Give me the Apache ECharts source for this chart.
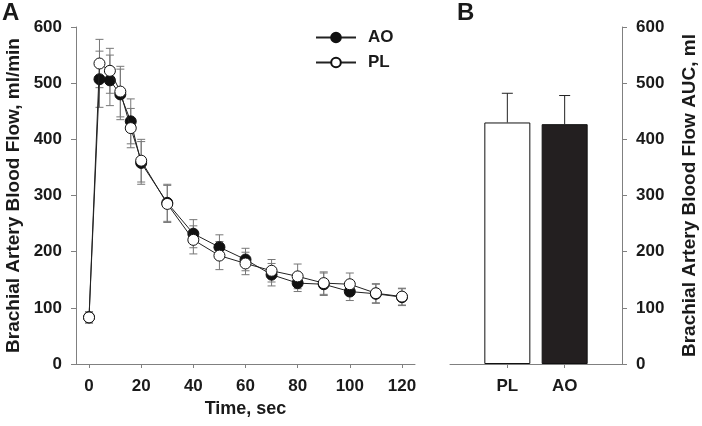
<!DOCTYPE html>
<html><head><meta charset="utf-8">
<script src="https://cdn.jsdelivr.net/npm/echarts@6/dist/echarts.min.js"></script>
<style>html,body{margin:0;padding:0;background:#fff}#c{width:702px;height:426px}</style>
</head><body><div id="c"></div>
<script>
// ---- data ----
const times  = [0, 4, 8, 12, 16, 20, 30, 40, 50, 60, 70, 80, 90, 100, 110, 120];
const aoMean = [83, 507, 505, 480, 432, 358, 287, 232, 208, 186, 159, 144, 142, 129, 125, 119];
const aoSem  = [10, 50, 45, 45, 40, 38, 33, 25, 22, 20, 20, 15, 20, 16, 17, 15];
const plMean = [83, 535, 522, 485, 420, 362, 285, 221, 193, 179, 166, 156, 144, 142, 126, 120];
const plSem  = [10, 43, 40, 45, 35, 38, 33, 25, 25, 20, 20, 22, 20, 20, 17, 15];
const xTickValues = [0, 20, 40, 60, 80, 100, 120];
const barCategories = ['PL', 'AO'];
const barMeans = [430, 427];
const barSem   = [52, 51];

const FONT = '"Liberation Sans", Arial, sans-serif';
const TXT = '#1a1a1a';
const AX = '#808080';

const chart = echarts.init(document.getElementById('c'), null, {renderer: 'canvas'});

function errItems(t, m, s) { return t.map((x, i) => [x, m[i] - s[i], m[i] + s[i]]); }

function errRender(capW, color) {
  return function (params, api) {
    const lo = api.coord([api.value(0), api.value(1)]);
    const hi = api.coord([api.value(0), api.value(2)]);
    const st = {stroke: color, lineWidth: 1};
    return {type: 'group', children: [
      {type: 'line', shape: {x1: hi[0], y1: hi[1], x2: lo[0], y2: lo[1]}, style: st},
      {type: 'line', shape: {x1: hi[0] - capW, y1: hi[1], x2: hi[0] + capW, y2: hi[1]}, style: st},
      {type: 'line', shape: {x1: lo[0] - capW, y1: lo[1], x2: lo[0] + capW, y2: lo[1]}, style: st}
    ]};
  };
}

const tickLabel = {fontFamily: FONT, fontWeight: 'bold', fontSize: 17, color: TXT};
const nameStyle = {fontFamily: FONT, fontWeight: 'bold', fontSize: 19, color: TXT};

const option = {
  animation: false,
  backgroundColor: '#fff',
  grid: [
    {left: 76, top: 27, width: 339, height: 337},
    {left: 450, top: 27, width: 172, height: 337}
  ],
  xAxis: [
    {gridIndex: 0, type: 'value', min: -5, max: 125,
     name: 'Time, sec', nameLocation: 'middle', nameGap: 35, nameTextStyle: Object.assign({}, nameStyle, {fontSize: 18}),
     axisLine: {lineStyle: {color: AX}}, splitLine: {show: false},
     axisTick: {show: true, length: 4, lineStyle: {color: AX}, customValues: xTickValues},
     axisLabel: Object.assign({margin: 14, customValues: xTickValues}, tickLabel)},
    {gridIndex: 1, type: 'value', min: 0, max: 3,
     axisLine: {lineStyle: {color: AX}}, splitLine: {show: false},
     axisTick: {show: true, length: 4, lineStyle: {color: AX}, customValues: [1, 2]},
     axisLabel: Object.assign({margin: 14, customValues: [1, 2], formatter: v => barCategories[Math.round(v) - 1] || ''}, tickLabel)}
  ],
  yAxis: [
    {gridIndex: 0, type: 'value', min: 0, max: 600, interval: 100,
     name: 'Brachial Artery Blood Flow, ml/min', nameLocation: 'middle', nameGap: 53, nameRotate: 90,
     nameTextStyle: nameStyle,
     axisLine: {show: true, onZero: false, lineStyle: {color: AX}}, splitLine: {show: false},
     axisTick: {show: true, length: 5, lineStyle: {color: AX}},
     axisLabel: Object.assign({margin: 14}, tickLabel)},
    {gridIndex: 1, type: 'value', min: 0, max: 600, interval: 100, position: 'right',
     name: 'Brachial Artery Blood Flow AUC, ml', nameLocation: 'middle', nameGap: 58, nameRotate: 90,
     nameTextStyle: nameStyle,
     axisLine: {show: true, onZero: false, lineStyle: {color: AX}}, splitLine: {show: false},
     axisTick: {show: true, length: 5, lineStyle: {color: AX}},
     axisLabel: Object.assign({margin: 14}, tickLabel)}
  ],
  legend: {
    orient: 'vertical', left: 310, top: 24, itemWidth: 40, itemHeight: 12, itemGap: 8,
    data: ['AO', 'PL'],
    textStyle: {fontFamily: FONT, fontWeight: 'bold', fontSize: 17, color: TXT, padding: [0, 0, 0, 7]}
  },
  graphic: [
    {type: 'text', left: 2, top: 1, style: {text: 'A', font: 'bold 24px ' + FONT, fill: TXT}},
    {type: 'text', left: 457, top: 1, style: {text: 'B', font: 'bold 24px ' + FONT, fill: TXT}}
  ],
  series: [
    {type: 'custom', name: 'aoErr', xAxisIndex: 0, yAxisIndex: 0, z: 2,
     renderItem: errRender(4, '#777'), encode: {x: 0, y: [1, 2]},
     data: errItems(times, aoMean, aoSem), silent: true},
    {type: 'custom', name: 'plErr', xAxisIndex: 0, yAxisIndex: 0, z: 2,
     renderItem: errRender(4, '#777'), encode: {x: 0, y: [1, 2]},
     data: errItems(times, plMean, plSem), silent: true},
    {type: 'line', name: 'AO', xAxisIndex: 0, yAxisIndex: 0, z: 3,
     data: times.map((t, i) => [t, aoMean[i]]),
     symbol: 'circle', symbolSize: 11, showAllSymbol: true,
     lineStyle: {color: '#222', width: 1},
     itemStyle: {color: '#111', borderColor: '#111', borderWidth: 1}},
    {type: 'line', name: 'PL', xAxisIndex: 0, yAxisIndex: 0, z: 4,
     data: times.map((t, i) => [t, plMean[i]]),
     symbol: 'circle', symbolSize: 11, showAllSymbol: true,
     lineStyle: {color: '#222', width: 1},
     itemStyle: {color: '#fff', borderColor: '#111', borderWidth: 1}},
    {type: 'bar', name: 'AUC', xAxisIndex: 1, yAxisIndex: 1, barWidth: 46, z: 2,
     data: barCategories.map((c, i) => ({
       value: [i + 1, barMeans[i]],
       itemStyle: i === 0 ? {color: '#fff', borderColor: '#111', borderWidth: 1}
                          : {color: '#231f20', borderColor: '#111', borderWidth: 1}
     }))},
    {type: 'custom', name: 'barErr', xAxisIndex: 1, yAxisIndex: 1, z: 1,
     renderItem: function (params, api) {
       const lo = api.coord([api.value(0), api.value(1)]);
       const hi = api.coord([api.value(0), api.value(2)]);
       const st = {stroke: '#222', lineWidth: 1};
       return {type: 'group', children: [
         {type: 'line', shape: {x1: hi[0], y1: hi[1], x2: lo[0], y2: lo[1]}, style: st},
         {type: 'line', shape: {x1: hi[0] - 5.5, y1: hi[1], x2: hi[0] + 5.5, y2: hi[1]}, style: st}
       ]};
     },
     encode: {x: 0, y: [1, 2]},
     data: barCategories.map((c, i) => [i + 1, barMeans[i], barMeans[i] + barSem[i]]), silent: true}
  ]
};
chart.setOption(option);
</script>
</body></html>
